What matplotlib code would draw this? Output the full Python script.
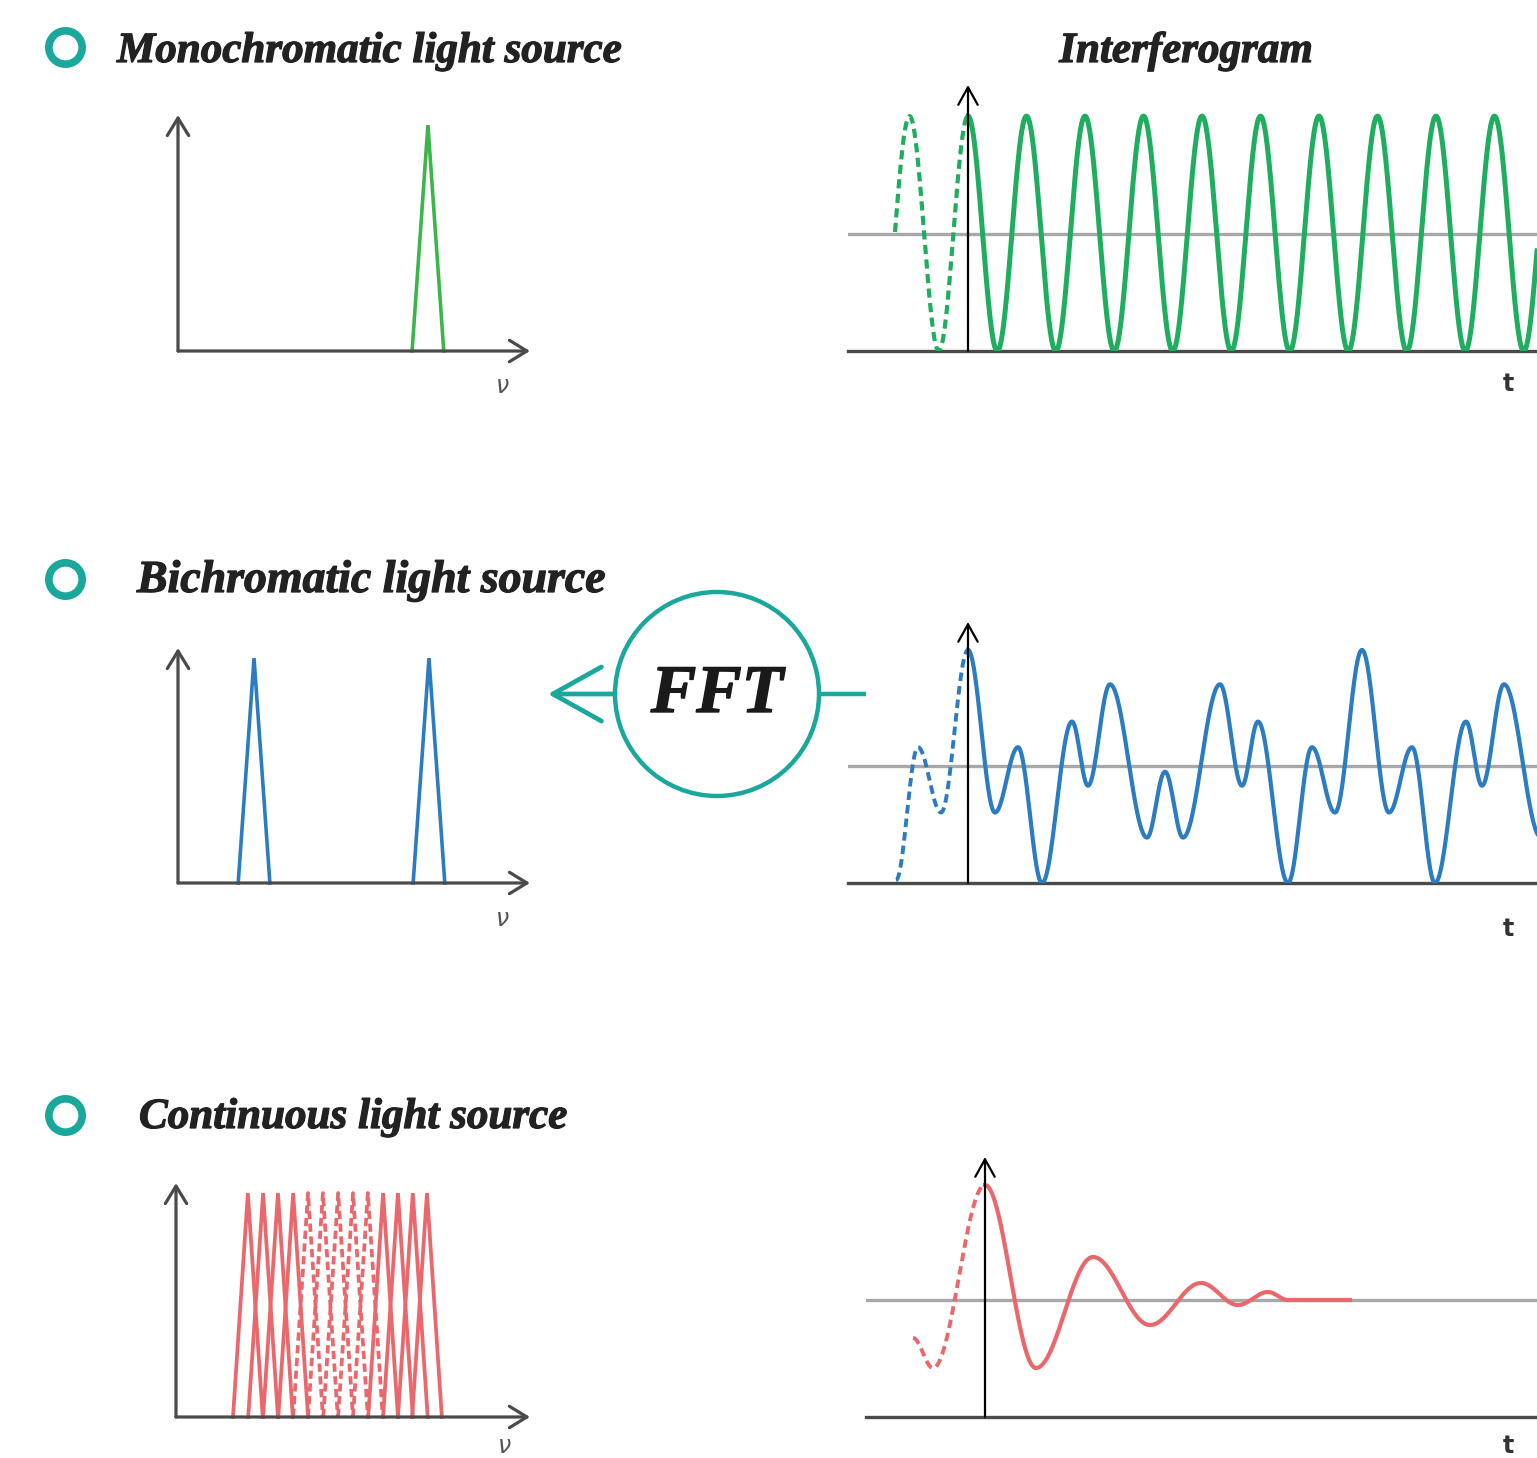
import matplotlib
matplotlib.use("Agg")
import matplotlib.pyplot as plt
import matplotlib.patheffects as pe
import numpy as np
from matplotlib.patches import Circle

# ---------------- data ----------------
titles = ["Monochromatic light source", "Bichromatic light source", "Continuous light source"]
right_title = "Interferogram"
fft_label = "FFT"
nu_label = "ν"
t_label = "t"

# spectra (frequency positions in arbitrary units, peak height 1)
mono_peaks = [7.1]
bi_peaks = [2.16, 7.13]
cont_peaks = [2.03, 2.46, 2.88, 3.31, 3.73, 4.15, 4.58, 5.00, 5.42, 5.85, 6.27, 6.69, 7.09]
cont_dashed = [False, False, False, False, True, True, True, True, True, False, False, False, False]

# interferograms (t in units of 100 px from the zero-path-difference axis)
mono_period = 0.585
# bichromatic: extrema (t, intensity)
bi_dash_t = [-0.72, -0.50, -0.27, 0.0]
bi_dash_v = [-1.95, 0.33, -0.79, 2.0]
bi_t = [0.0, 0.27, 0.50, 0.74, 1.04, 1.20, 1.42, 1.79, 1.97, 2.15, 2.52, 2.74, 2.90,
        3.20, 3.44, 3.67, 3.94, 4.21, 4.44, 4.67, 4.98, 5.14, 5.36, 5.73]
bi_v = [2.0, -0.79, 0.33, -2.0, 0.77, -0.33, 1.41, -1.22, -0.09, -1.22, 1.41, -0.33, 0.77,
        -2.0, 0.33, -0.79, 2.0, -0.79, 0.33, -2.0, 0.77, -0.33, 1.41, -1.22]
# continuous: extrema
cont_dash_t = [-0.72, -0.52, 0.0]
cont_dash_v = [-38, -68, 115]
cont_t = [0.0, 0.51, 1.08, 1.65, 2.16, 2.53, 2.83, 3.03, 3.65]
cont_v = [115, -68, 43, -25, 17, -5, 8, 0, 0]

# ---------------- style ----------------
TEAL = "#19a89b"
GREEN_S = "#3cb54a"
GREEN_I = "#1fae60"
BLUE = "#2b7cc2"
RED = "#ea686c"
AX_GRAY = "#4a4a4a"
MEAN_GRAY = "#a8a8a8"
SERIF = "Liberation Serif"

W, H = 1537, 1458
fig = plt.figure(figsize=(W / 100, H / 100), dpi=100)


def add_ax(x0, y0, x1, y1):
    ax = fig.add_axes([x0 / W, 1 - y1 / H, (x1 - x0) / W, (y1 - y0) / H])
    ax.set_axis_off()
    return ax


def spectrum(box, peaks, hw, color, lw, dashed=None):
    ax = add_ax(*box)
    ax.set_xlim(0, 10)
    ax.set_ylim(0, 1.045)
    for i, p in enumerate(peaks):
        is_d = dashed is not None and dashed[i]
        ax.plot([p - hw, p, p + hw], [0, 1, 0], color=color, lw=lw,
                ls=(0, (2.2, 1.2)) if is_d else "-", clip_on=False,
                solid_joinstyle="miter", zorder=2)
    kw = dict(arrowstyle="->,head_length=0.9,head_width=0.55", lw=2.3, color=AX_GRAY,
              shrinkA=0, shrinkB=0, mutation_scale=14)
    ax.annotate("", xy=(1, 0), xytext=(0, 0), xycoords="axes fraction", arrowprops=kw)
    ax.annotate("", xy=(0, 1), xytext=(0, 0), xycoords="axes fraction", arrowprops=kw)
    return ax


def interf_axes(box, xlim, ylim):
    ax = add_ax(*box)
    ax.set_xlim(*xlim)
    ax.set_ylim(*ylim)
    ax.axhline(ylim[0], color=AX_GRAY, lw=2.4, zorder=1, clip_on=False)
    ax.axhline(0, color=MEAN_GRAY, lw=2.4, zorder=1)
    ax.annotate("", xy=(0, ylim[1]), xytext=(0, ylim[0]), xycoords="data",
                arrowprops=dict(arrowstyle="->,head_length=0.9,head_width=0.5", lw=1.6,
                                color="black", shrinkA=0, shrinkB=0, mutation_scale=14),
                zorder=4)
    return ax


def smooth(tp, vp, n=120):
    xs, ys = [], []
    for i in range(len(tp) - 1):
        s = np.linspace(0, 1, n)
        xs.append(tp[i] + (tp[i + 1] - tp[i]) * s)
        ys.append(vp[i] + (vp[i + 1] - vp[i]) * (1 - np.cos(np.pi * s)) / 2)
    return np.concatenate(xs), np.concatenate(ys)


DASH = (0, (2.2, 1.3))

# ---- spectra ----
spectrum((178, 115, 530, 351), mono_peaks, 0.45, GREEN_S, 2.6)
spectrum((178, 648, 530, 883), bi_peaks, 0.45, BLUE, 2.6)
spectrum((176, 1183, 530, 1417), cont_peaks, 0.42, RED, 2.7, cont_dashed)

# ---- mono interferogram ----
ax = interf_axes((848, 85, 1537, 351), (-1.20, 5.69), (-1, 1.265))
ts = np.linspace(0, 5.69, 3000)
td = np.linspace(-0.73, 0, 400)
ax.plot(ts, np.cos(2 * np.pi * ts / mono_period), color=GREEN_I, lw=3.6, zorder=3)
ax.plot(td, np.cos(2 * np.pi * td / mono_period), color=GREEN_I, lw=3.0, ls=DASH, zorder=3)

# ---- bichromatic interferogram ----
ax = interf_axes((848, 622, 1537, 883), (-1.20, 5.69), (-2, 2.48))
x, y = smooth(bi_t, bi_v)
ax.plot(x, y, color=BLUE, lw=3.0, zorder=3)
x, y = smooth(bi_dash_t, bi_dash_v)
ax.plot(x, y, color=BLUE, lw=2.8, ls=DASH, zorder=3)

# ---- continuous interferogram ----
ax = interf_axes((866, 1157, 1537, 1417), (-1.19, 5.52), (-117, 143))
x, y = smooth(cont_t, cont_v)
ax.plot(x, y, color=RED, lw=3.0, zorder=3)
x, y = smooth(cont_dash_t, cont_dash_v)
ax.plot(x, y, color=RED, lw=2.8, ls=DASH, zorder=3)

# ---------------- overlay: titles, labels, FFT ----------------
ov = fig.add_axes([0, 0, 1, 1], zorder=-1)
ov.set_xlim(0, W)
ov.set_ylim(H, 0)
ov.set_axis_off()

heavy = [pe.withStroke(linewidth=0.9, foreground="#222222")]
title_kw = dict(fontweight="bold", fontstyle="italic", family=SERIF,
                color="#222222", va="baseline", ha="left", path_effects=heavy)
for (cy, tx, by, fs), txt in zip([(47, 117, 62, 31), (579, 137, 592, 33), (1115, 139, 1128, 31)], titles):
    ov.plot([65], [cy], "o", ms=24, mfc="none", mec=TEAL, mew=5.5)
    ov.text(tx, by, txt, fontsize=fs, **title_kw)
ov.text(1186, 62, right_title, fontsize=31, **{**title_kw, "ha": "center"})

for (x0, y0) in [(503, 386), (503, 919), (505, 1446)]:
    ov.text(x0, y0, nu_label, fontsize=17, fontstyle="italic", color="#555555",
            ha="center", va="center", family="DejaVu Sans")
for (x0, y0) in [(1508, 384), (1508, 929), (1508, 1446)]:
    ov.text(x0, y0, t_label, fontsize=17, fontweight="bold", color="#333333",
            ha="center", va="center", family="DejaVu Sans")

ov.add_patch(Circle((717, 694), 102, fill=False, ec=TEAL, lw=3.2))
ov.text(717, 712, fft_label, fontsize=49, fontweight="bold", fontstyle="italic",
        family=SERIF, color="#1a1a1a", ha="center", va="baseline",
        path_effects=[pe.withStroke(linewidth=1.0, foreground="#1a1a1a")])
ov.plot([819, 866], [694, 694], color=TEAL, lw=3.2, solid_capstyle="butt")
ov.annotate("", xy=(548, 694), xytext=(615, 694),
            arrowprops=dict(arrowstyle="->,head_length=3.5,head_width=1.95", lw=3.4,
                            color=TEAL, shrinkA=0, shrinkB=0, mutation_scale=10))

fig.savefig("out.png", dpi=100)
